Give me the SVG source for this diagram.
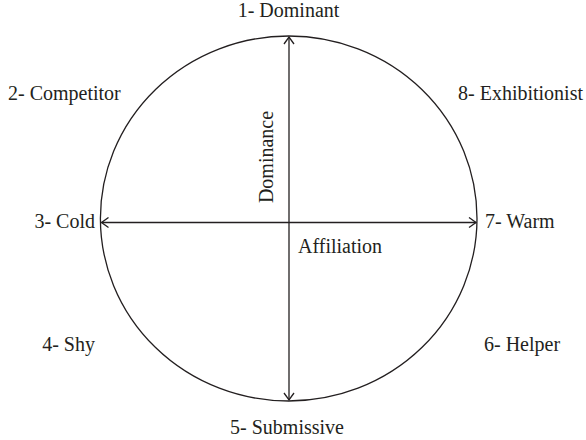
<svg xmlns="http://www.w3.org/2000/svg" width="586" height="440" viewBox="0 0 586 440">
<style>
text{font-family:"Liberation Serif","DejaVu Serif",serif;font-size:20px;fill:#231f20}
.ax{stroke:#231f20;stroke-width:1.3;fill:none}
</style>
<defs>
<marker id="ah" viewBox="0 0 10 12" refX="8.5" refY="6" markerWidth="10" markerHeight="12" markerUnits="userSpaceOnUse" orient="auto-start-reverse">
<path d="M1.5,1 L8.5,6 L1.5,11" fill="none" stroke="#231f20" stroke-width="1.3"/>
</marker>
</defs>
<rect width="586" height="440" fill="#fff"/>
<g id="circle"><ellipse cx="288.7" cy="218.5" rx="188.3" ry="182.5" class="ax"/></g>
<g id="connectors">
<line x1="289" y1="37" x2="289" y2="400" class="ax" marker-start="url(#ah)" marker-end="url(#ah)"/>
<line x1="101.5" y1="222.5" x2="476" y2="222.5" class="ax" marker-start="url(#ah)" marker-end="url(#ah)"/>
</g>
<g id="n1"><text x="288.5" y="17" text-anchor="middle">1- Dominant</text></g>
<g id="n2"><text x="8" y="100">2- Competitor</text></g>
<g id="n3"><text x="95" y="228" text-anchor="end">3- Cold</text></g>
<g id="n4"><text x="95" y="351" text-anchor="end">4- Shy</text></g>
<g id="n5"><text x="287" y="434" text-anchor="middle">5- Submissive</text></g>
<g id="n6"><text x="484" y="351">6- Helper</text></g>
<g id="n7"><text x="485" y="228">7- Warm</text></g>
<g id="n8"><text x="583" y="100" text-anchor="end">8- Exhibitionist</text></g>
<g id="dominance"><text transform="translate(273,157) rotate(-90)" text-anchor="middle">Dominance</text></g>
<g id="affiliation"><text x="298" y="253">Affiliation</text></g>
</svg>
